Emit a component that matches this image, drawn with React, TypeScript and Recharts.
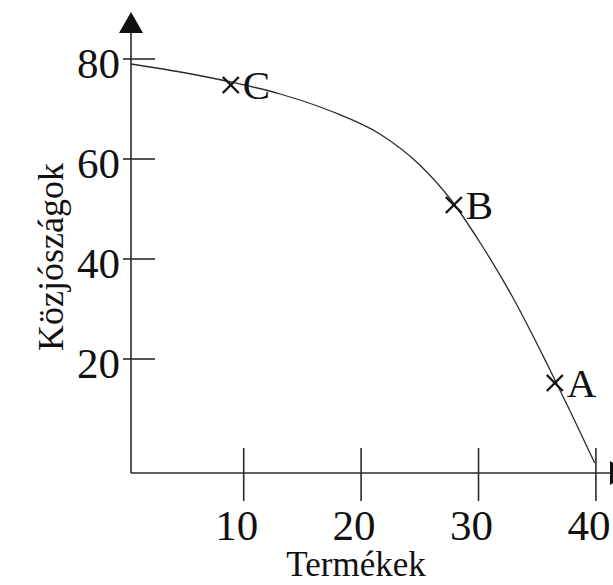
import React from "react";
import { ComposedChart, Line, Scatter, XAxis, YAxis } from "recharts";

// curve (termékek, közjószágok)
const curveX = [0.4, 4.6, 8.9, 13.1, 17.4, 21.6, 25.0, 27.6, 30.1, 32.9, 35.8, 37.8, 39.9];
const curveY = [79.0, 77.4, 75.4, 73.0, 69.6, 65.0, 58.8, 52.0, 43.4, 32.4, 19.2, 9.6, -0.8];

// marked points
const pointNames = ["C", "B", "A"];
const pointX = [8.9, 27.9, 36.5];
const pointY = [74.8, 50.8, 15.2];

const xTicks = [10, 20, 30, 40];
const yTicks = [20, 40, 60, 80];

const curve = curveX.map((x, i) => ({ x, y: curveY[i] }));
const points = pointNames.map((name, i) => ({ name, x: pointX[i], y: pointY[i] }));

const FONT = "'Liberation Serif', 'DejaVu Serif', serif";
const INK = "#111";
const LINE = "#2a2a2a";

const YTick = (props: any) => {
  const { x, y, payload } = props;
  return (
    <g>
      <line x1={x + 3} y1={y} x2={x + 35} y2={y} stroke={LINE} strokeWidth={1.6} />
      <text x={x} y={y + 19} textAnchor="end" fontFamily={FONT} fontSize={43} fill={INK}>
        {payload.value}
      </text>
    </g>
  );
};

const XTick = (props: any) => {
  const { x, y, payload } = props;
  return (
    <g>
      <line x1={x} y1={y - 25} x2={x} y2={y + 28} stroke={LINE} strokeWidth={1.6} />
      <text x={x - 7} y={y + 67} textAnchor="middle" fontFamily={FONT} fontSize={43} fill={INK}>
        {payload.value}
      </text>
    </g>
  );
};

const Cross = (props: any) => {
  const { cx, cy, payload } = props;
  const s = 8;
  return (
    <g>
      <line x1={cx - s} y1={cy - s} x2={cx + s} y2={cy + s} stroke={INK} strokeWidth={2.4} />
      <line x1={cx - s} y1={cy + s} x2={cx + s} y2={cy - s} stroke={INK} strokeWidth={2.4} />
      <text x={cx + 12} y={cy + 14} fontFamily={FONT} fontSize={41} fill={INK}>
        {payload.name}
      </text>
    </g>
  );
};

const YLabel = (props: any) => {
  const { viewBox } = props;
  const x = viewBox.x + 63;
  const y = viewBox.y + viewBox.height / 2 + 4;
  return (
    <text x={x} y={y} transform={`rotate(-90, ${x}, ${y})`} textAnchor="middle" fontFamily={FONT} fontSize={36} fill={INK}>
      Közjószágok
    </text>
  );
};

const XLabel = (props: any) => {
  const { viewBox } = props;
  return (
    <text x={viewBox.x + 225} y={viewBox.y + 103} textAnchor="middle" fontFamily={FONT} fontSize={35} fill={INK}>
      Termékek
    </text>
  );
};

export default function App() {
  return (
    <div style={{ position: "absolute", left: 0, top: 0, background: "#fff" }}>
      <ComposedChart width={613} height={585} margin={{ top: 33, right: 3, bottom: 0, left: 0 }}>
        <defs>
          <marker
            id="arrow"
            viewBox="0 0 21 24"
            refX={0}
            refY={12}
            markerWidth={21}
            markerHeight={24}
            markerUnits="userSpaceOnUse"
            orient="auto-start-reverse"
          >
            <path d="M0,0 L21,12 L0,24 Z" fill={INK} />
          </marker>
        </defs>
        <XAxis
          type="number"
          dataKey="x"
          domain={[0.4, 41.2]}
          ticks={xTicks}
          allowDataOverflow
          height={112}
          tickSize={0}
          tickMargin={0}
          tickLine={false}
          tick={XTick}
          axisLine={{ stroke: LINE, strokeWidth: 1.6, markerEnd: "url(#arrow)" }}
          label={<XLabel />}
        />
        <YAxis
          type="number"
          dataKey="y"
          domain={[-2.8, 85.2]}
          ticks={yTicks}
          allowDataOverflow
          width={131}
          tickSize={0}
          tickMargin={11}
          tickLine={false}
          tick={YTick}
          axisLine={{ stroke: LINE, strokeWidth: 1.6, markerStart: "url(#arrow)" }}
          label={<YLabel />}
        />
        <Line
          data={curve}
          dataKey="y"
          type="monotone"
          stroke={LINE}
          strokeWidth={1.3}
          dot={false}
          activeDot={false}
          isAnimationActive={false}
        />
        <Scatter data={points} dataKey="y" shape={Cross} isAnimationActive={false} />
      </ComposedChart>
    </div>
  );
}
